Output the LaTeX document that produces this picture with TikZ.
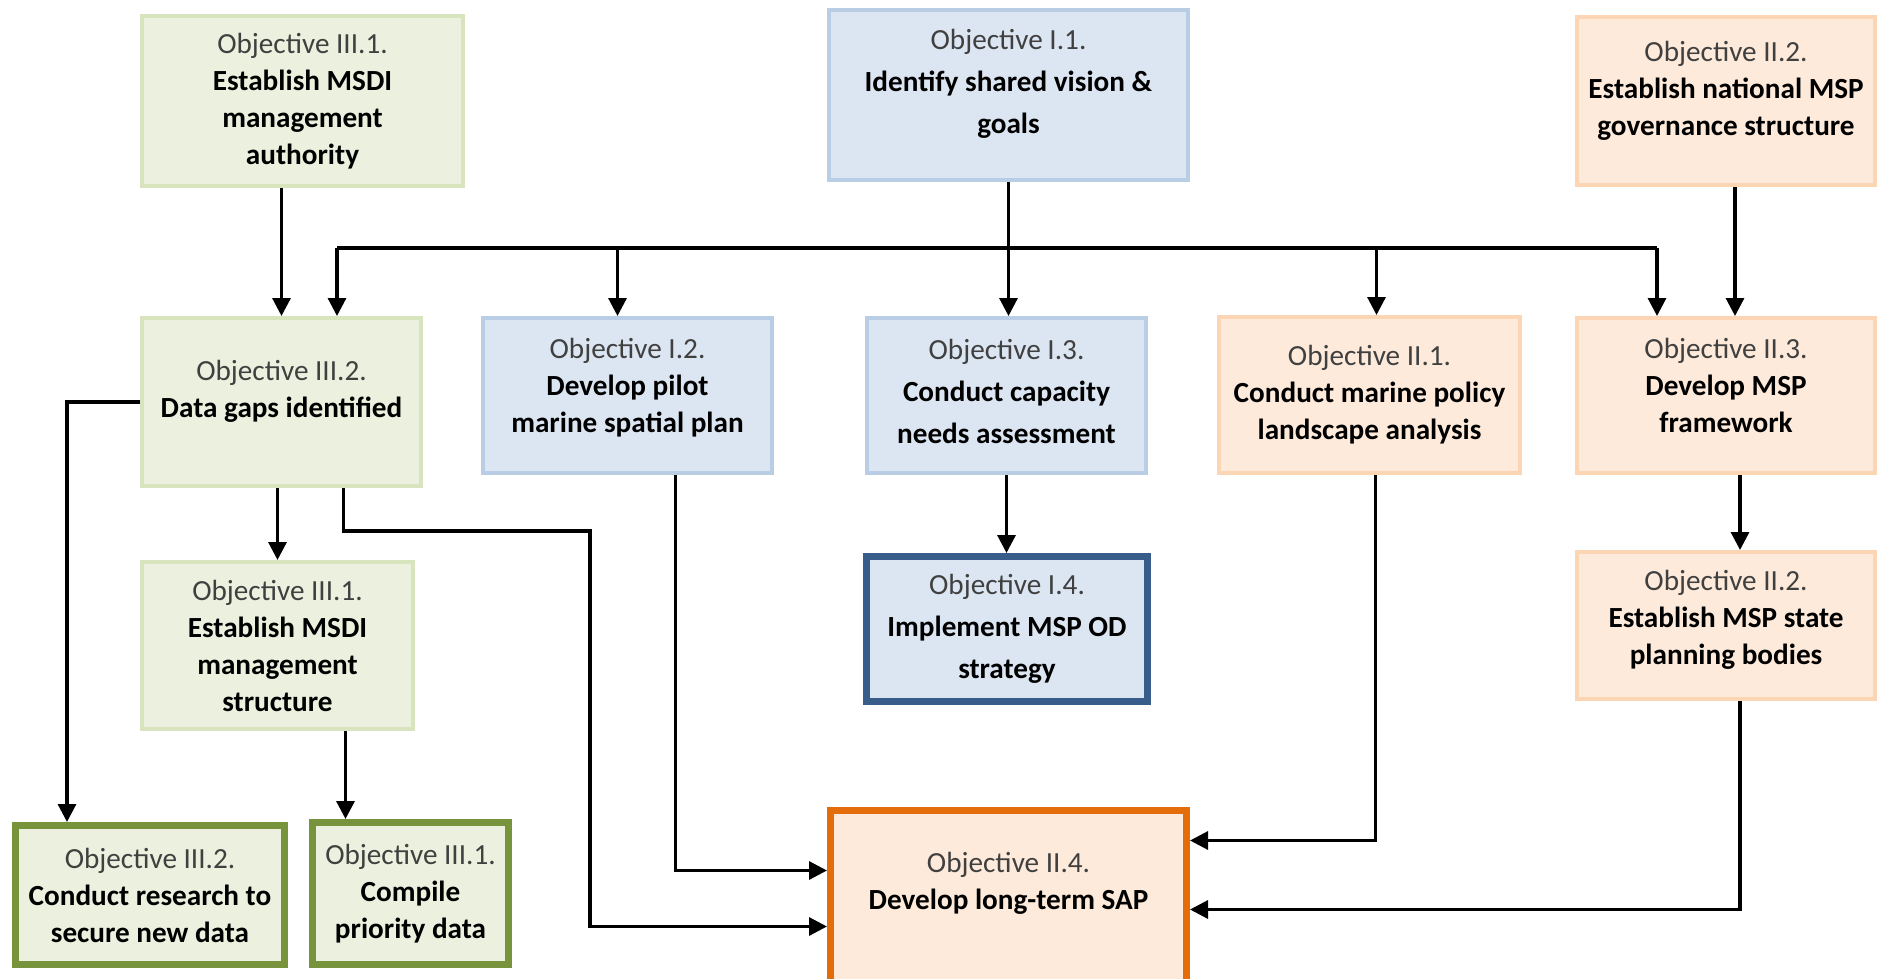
\documentclass[tikz,border=0pt]{standalone}
\usepackage{fontspec}
\setmainfont{Carlito}
\usetikzlibrary{calc, positioning, arrows.meta}

\definecolor{greenFill}{HTML}{EBF1DE}
\definecolor{greenLine}{HTML}{D7E4BD}
\definecolor{greenDark}{HTML}{77933C}
\definecolor{blueFill}{HTML}{DCE6F2}
\definecolor{blueLine}{HTML}{B9CDE5}
\definecolor{blueDark}{HTML}{385D8A}
\definecolor{orangeFill}{HTML}{FDEADA}
\definecolor{orangeLine}{HTML}{FCD5B5}
\definecolor{orangeDark}{HTML}{E46C0A}
\definecolor{objGray}{HTML}{404040}

\newcommand{\objtag}[1]{{\color{objGray}#1}}

\begin{document}
\begin{tikzpicture}[
			x=0.5pt, y=-0.5pt,
			box/.style={draw, align=center, inner sep=0pt, line width=2pt, font=\fontsize{14.6}{18.5}\selectfont},
			boxsize/.style 2 args={minimum width=#1*0.5pt, minimum height=#2*0.5pt},
			greenbox/.style={box, fill=greenFill, draw=greenLine},
			bluebox/.style={box, fill=blueFill, draw=blueLine},
			orangebox/.style={box, fill=orangeFill, draw=orangeLine},
			key/.style={line width=3.5pt},
			loose/.style={font=\fontsize{14.6}{21}\selectfont},
			lift/.style={text depth=#1},
			link/.style={->, line width=1.6pt},
			>={Triangle[length=9pt, width=9pt]},
			]
			\useasboundingbox (0,0) rectangle (1879,979);
			
			% Ziele oben
			\node[greenbox, boxsize={321}{170}] (msdiAuth) at (302.5,101) {\objtag{Objective III.1.}\\ \textbf{Establish MSDI}\\ \textbf{management}\\ \textbf{authority}};
			\node[bluebox, loose, lift=14pt, boxsize={359}{170}] (vision) at (1008.5,95) {\objtag{Objective I.1.}\\ \textbf{Identify shared vision \&}\\ \textbf{goals}};
			\node[orangebox, lift=13pt, boxsize={298}{168}] (govStruct) at (1726,101) {\objtag{Objective II.2.}\\ \textbf{Establish national MSP}\\ \textbf{governance structure}};
			
			% mittlere Reihe
			\node[greenbox, lift=13pt, boxsize={279}{168}] (dataGaps) at (281.5,402) {\objtag{Objective III.2.}\\ \textbf{Data gaps identified}};
			\node[bluebox, lift=10pt, boxsize={289}{155}] (pilot) at (627.5,395.5) {\objtag{Objective I.2.}\\ \textbf{Develop pilot}\\ \textbf{marine spatial plan}};
			\node[bluebox, loose, lift=4pt, boxsize={279}{155}] (capacity) at (1006.5,395.5) {\objtag{Objective I.3.}\\ \textbf{Conduct capacity}\\ \textbf{needs assessment}};
			\node[orangebox, boxsize={301}{156}] (policy) at (1369.5,395) {\objtag{Objective II.1.}\\ \textbf{Conduct marine policy}\\ \textbf{landscape analysis}};
			\node[orangebox, lift=10pt, boxsize={298}{155}] (framework) at (1726,395.5) {\objtag{Objective II.3.}\\ \textbf{Develop MSP}\\ \textbf{framework}};
			
			% untere Reihen
			\node[greenbox, boxsize={271}{167}] (msdiStruct) at (277.5,645.5) {\objtag{Objective III.1.}\\ \textbf{Establish MSDI}\\ \textbf{management}\\ \textbf{structure}};
			\node[bluebox, loose, key, draw=blueDark, boxsize={281}{145}] (odStrategy) at (1007,629) {\objtag{Objective I.4.}\\ \textbf{Implement MSP OD}\\ \textbf{strategy}};
			\node[orangebox, lift=8pt, boxsize={298}{147}] (stateBodies) at (1726,625.5) {\objtag{Objective II.2.}\\ \textbf{Establish MSP state}\\ \textbf{planning bodies}};
			\node[greenbox, key, draw=greenDark, boxsize={269}{139}] (research) at (150,895) {\objtag{Objective III.2.}\\ \textbf{Conduct research to}\\ \textbf{secure new data}};
			\node[greenbox, key, draw=greenDark, boxsize={196}{142}] (compile) at (410.5,893.5) {\objtag{Objective III.1.}\\ \textbf{Compile}\\ \textbf{priority data}};
			\node[orangebox, key, draw=orangeDark, lift=23pt, boxsize={356}{186}] (sap) at (1008.5,903.5) {\objtag{Objective II.4.}\\ \textbf{Develop long-term SAP}};
			
			% Verbindungen
			\coordinate (busL) at (337,248);
			\coordinate (busR) at (1657,248);
			\coordinate (gapBend) at (590,531);
			\coordinate (structOut) at ($(msdiStruct.south)+(68,0)$);
			
			\draw[line width=1.6pt] (busL) -- (busR);
			\draw[link] (dataGaps.north |- msdiAuth.south) -- (dataGaps.north);
			\draw[link] (vision.south) -- (vision.south |- capacity.north);
			\draw[link] (busL) -- (busL |- dataGaps.north);
			\draw[link] ($(pilot.north |- busL)+(-10,0)$) -- ($(pilot.north)+(-10,0)$);
			\draw[link] ($(policy.north |- busR)+(7,0)$) -- ($(policy.north)+(7,0)$);
			\draw[link] (busR) -- (busR |- framework.north);
			\draw[link] ($(govStruct.south)+(9,0)$) -- ($(framework.north)+(9,0)$);
			\draw[link] (dataGaps.west) -| ($(research.north)+(-83,0)$);
			\draw[link] (msdiStruct.north |- dataGaps.south) -- (msdiStruct.north);
			\draw[link] ($(dataGaps.south)+(62,0)$) |- (gapBend) |- ($(sap.west)+(0,23)$);
			\draw[link] ($(pilot.south)+(48,0)$) |- ($(sap.west)+(0,-33)$);
			\draw[link] (capacity.south) -- (capacity.south |- odStrategy.north);
			\draw[link] ($(policy.south)+(6,0)$) |- ($(sap.east)+(0,-63)$);
			\draw[link] ($(framework.south)+(14,0)$) -- ($(stateBodies.north)+(14,0)$);
			\draw[link] ($(stateBodies.south)+(14,0)$) |- ($(sap.east)+(0,6)$);
			\draw[link] (structOut) -- (structOut |- compile.north);
			
		\end{tikzpicture}
\end{document}
